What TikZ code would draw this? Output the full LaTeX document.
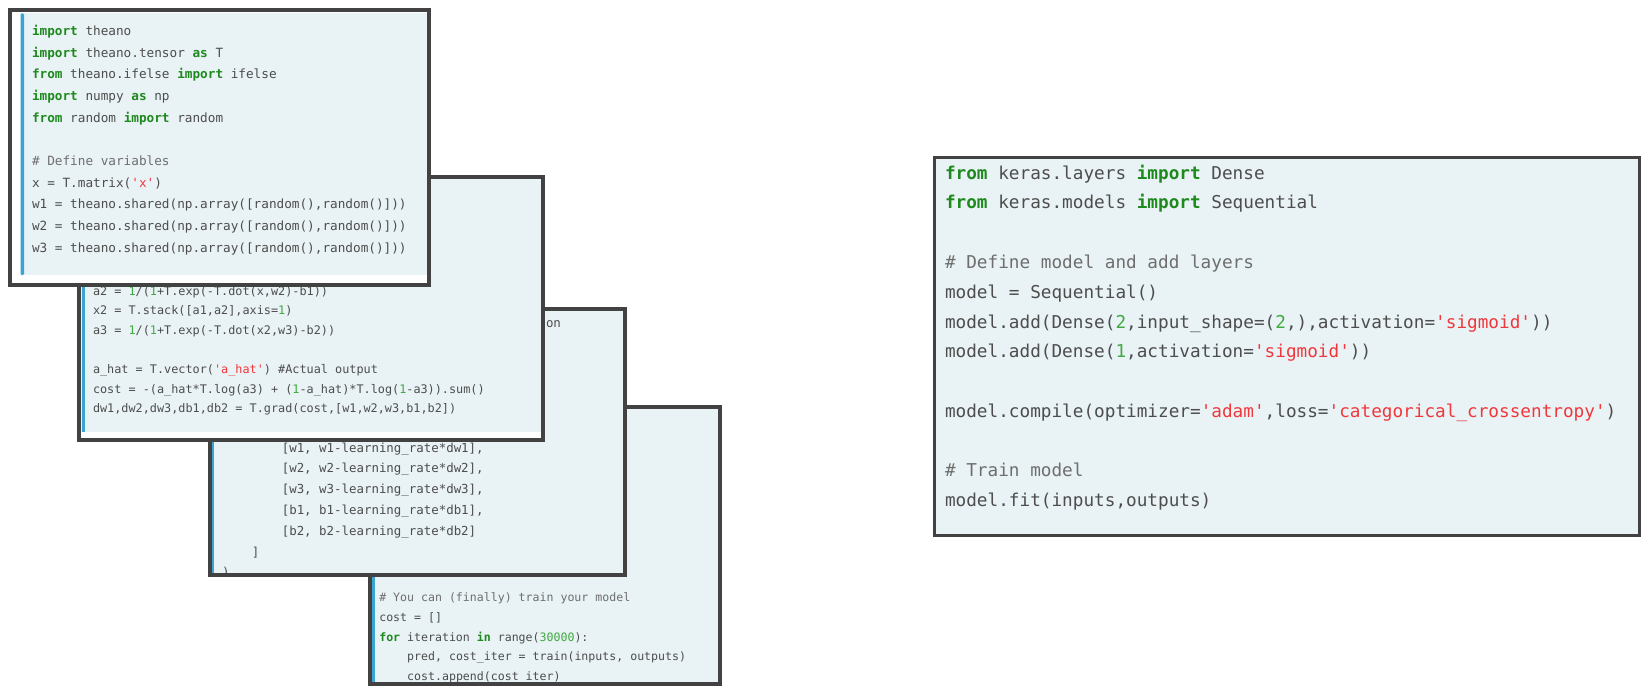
\documentclass[tikz,border=0pt]{standalone}
\usepackage{fontspec}
\setmonofont{DejaVu Sans Mono}
\usepackage{xcolor}
\definecolor{codegray}{HTML}{4D4D4D}
\definecolor{comgray}{HTML}{6E6E6E}
\definecolor{kwgreen}{HTML}{1E8A1E}
\definecolor{numgreen}{HTML}{3FAA3F}
\definecolor{strred}{HTML}{F0383C}
\definecolor{panel}{HTML}{E9F2F5}
\definecolor{stripe}{HTML}{3AA5CF}
\definecolor{framecol}{HTML}{424242}
\newcommand{\ckw}[1]{{\color{kwgreen}\bfseries #1}}
\newcommand{\cstr}[1]{{\color{strred}#1}}
\newcommand{\cnum}[1]{{\color{numgreen}#1}}
\newcommand{\ccom}[1]{{\color{comgray}#1}}
\tikzset{
  codeline/.style={anchor=mid west, inner sep=0pt, outer sep=0pt, text=codegray},
  cA/.style={codeline, font=\ttfamily\fontsize{12.7}{15}\selectfont},
  cB/.style={codeline, font=\ttfamily\fontsize{11.83}{14}\selectfont},
  cC/.style={codeline, font=\ttfamily\fontsize{12.42}{15}\selectfont},
  cD/.style={codeline, font=\ttfamily\fontsize{11.58}{14}\selectfont},
  cR/.style={codeline, font=\ttfamily\fontsize{17.7}{21}\selectfont},
  frameline/.style={draw=framecol, line width=4pt},
}
\begin{document}
\begin{tikzpicture}[x=1pt,y=-1pt]
\useasboundingbox (0,0) rectangle (1648,695);
\fill[white] (0,0) rectangle (1648,695);

% ---------------- Box 4 (bottom) ----------------
\fill[white] (368,405) rectangle (722,686);
\fill[panel] (372,409) rectangle (718,682);
\fill[stripe] (372,409) rectangle (374.5,682);
\begin{scope}
\clip (372,409) rectangle (718,682);
\node (d1) [cD] at (379.3,599.3) {\ccom{\# You can (finally) train your model}};
\node (d2) [cD] at (379.3,619.1) {cost = []};
\node (d3) [cD] at (379.3,638.9) {\ckw{for} iteration \ckw{in} range(\cnum{30000}):};
\node (d4) [cD] at (407.2,658.6) {pred, cost\_iter = train(inputs, outputs)};
\node (d5) [cD] at (407.2,678.4) {cost.append(cost\_iter)};
\end{scope}
\draw[frameline] (370,407) rectangle (720,684);

% ---------------- Box 3 ----------------
\fill[white] (208,307) rectangle (627,577);
\fill[panel] (211,311) rectangle (623,573);
\fill[stripe] (211,311) rectangle (213.5,573);
\begin{scope}
\clip (211,311) rectangle (623,573);
\node (c0) [cC] at (546,325) {on};
\node (c1) [cC] at (281.8,450) {[w1, w1-learning\_rate*dw1],};
\node (c2) [cC] at (281.8,470.8) {[w2, w2-learning\_rate*dw2],};
\node (c3) [cC] at (281.8,491.6) {[w3, w3-learning\_rate*dw3],};
\node (c4) [cC] at (281.8,512.4) {[b1, b1-learning\_rate*db1],};
\node (c5) [cC] at (281.8,533.2) {[b2, b2-learning\_rate*db2]};
\node (c6) [cC] at (251.9,554) {]};
\node (c7) [cC] at (222,574.8) {)};
\end{scope}
\draw[frameline] (210,309) rectangle (625,575);

% ---------------- Box 2 ----------------
\fill[white] (77,175) rectangle (545,442);
\fill[panel] (81,179) rectangle (541,432);
\fill[stripe] (81.5,179) rectangle (84.5,432);
\begin{scope}
\clip (81,179) rectangle (541,438);
\node (b1) [cB] at (93,293) {a2 = \cnum{1}/(\cnum{1}+T.exp(-T.dot(x,w2)-b1))};
\node (b2) [cB] at (93,312.6) {x2 = T.stack([a1,a2],axis=\cnum{1})};
\node (b3) [cB] at (93,332.2) {a3 = \cnum{1}/(\cnum{1}+T.exp(-T.dot(x2,w3)-b2))};
\node (b4) [cB] at (93,371.4) {a\_hat = T.vector(\cstr{'a\_hat'}) \#Actual output};
\node (b5) [cB] at (93,391) {cost = -(a\_hat*T.log(a3) + (\cnum{1}-a\_hat)*T.log(\cnum{1}-a3)).sum()};
\node (b6) [cB] at (93,410.6) {dw1,dw2,dw3,db1,db2 = T.grad(cost,[w1,w2,w3,b1,b2])};
\end{scope}
\draw[frameline] (79,177) rectangle (543,440);

% ---------------- Box 1 (top) ----------------
\fill[white] (8,8) rectangle (431,287);
\fill[panel] (20.5,13.5) rectangle (427,275);
\fill[stripe, rounded corners=1.2pt] (20.5,13.5) rectangle (24,275);
\begin{scope}
\clip (12,12) rectangle (427,283);
\node (a1) [cA] at (32,33.3) {\ckw{import} theano};
\node (a2) [cA] at (32,55) {\ckw{import} theano.tensor \ckw{as} T};
\node (a3) [cA] at (32,76.7) {\ckw{from} theano.ifelse \ckw{import} ifelse};
\node (a4) [cA] at (32,98.3) {\ckw{import} numpy \ckw{as} np};
\node (a5) [cA] at (32,120) {\ckw{from} random \ckw{import} random};
\node (a7) [cA] at (32,163.4) {\ccom{\# Define variables}};
\node (a8) [cA] at (32,185) {x = T.matrix(\cstr{'x'})};
\node (a9) [cA] at (32,206.7) {w1 = theano.shared(np.array([random(),random()]))};
\node (a10) [cA] at (32,228.4) {w2 = theano.shared(np.array([random(),random()]))};
\node (a11) [cA] at (32,250) {w3 = theano.shared(np.array([random(),random()]))};
\end{scope}
\draw[frameline] (10,10) rectangle (429,285);

% ---------------- Right box ----------------
\fill[panel] (933,156) rectangle (1641,537);
\begin{scope}
\clip (933,156) rectangle (1641,537);
\node (r1) [cR] at (945,177) {\ckw{from} keras.layers \ckw{import} Dense};
\node (r2) [cR] at (945,206.8) {\ckw{from} keras.models \ckw{import} Sequential};
\node (r3) [cR] at (945,266.5) {\ccom{\# Define model and add layers}};
\node (r4) [cR] at (945,296.3) {model = Sequential()};
\node (r5) [cR] at (945,326) {model.add(Dense(\cnum{2},input\_shape=(\cnum{2},),activation=\cstr{'sigmoid'}))};
\node (r6) [cR] at (945,355.8) {model.add(Dense(\cnum{1},activation=\cstr{'sigmoid'}))};
\node (r7) [cR] at (945,415.3) {model.compile(optimizer=\cstr{'adam'},loss=\cstr{'categorical\_crossentropy'})};
\node (r8) [cR] at (945,474.8) {\ccom{\# Train model}};
\node (r9) [cR] at (945,504.6) {model.fit(inputs,outputs)};
\end{scope}
\draw[framecol, line width=3pt] (934.5,157.5) rectangle (1639.5,535.5);
\end{tikzpicture}
\end{document}
